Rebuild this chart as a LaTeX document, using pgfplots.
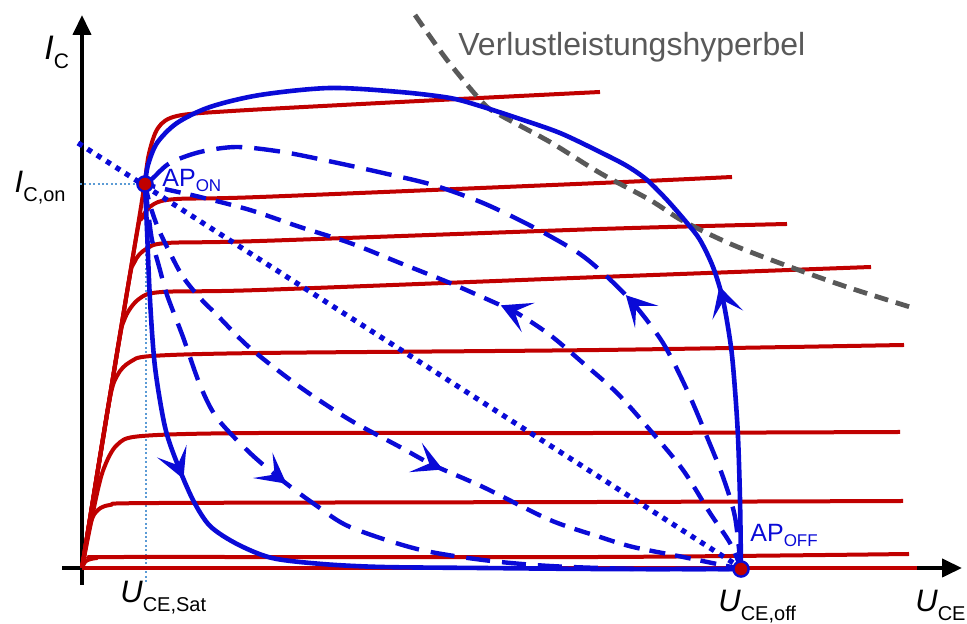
\documentclass[border=0pt]{standalone}
\usepackage{pgfplots}
\pgfplotsset{compat=1.18}
\usepackage{fontspec}
\setmainfont{Liberation Sans}
\usetikzlibrary{arrows.meta,decorations.markings}

\definecolor{chred}{RGB}{192,0,0}
\definecolor{chblue}{RGB}{10,10,215}
\definecolor{hypgray}{RGB}{89,89,89}
\definecolor{guide}{RGB}{91,155,213}

% quantity symbol with lowered index, e.g. U_CE,Sat
\newcommand{\grlabel}[2]{{\fontsize{15.5pt}{16pt}\selectfont\itshape #1}\raisebox{-4.5pt}{\fontsize{10pt}{10pt}\selectfont #2}}
% operating point label
\newcommand{\ap}[1]{{\fontsize{12.5pt}{13pt}\selectfont AP}\raisebox{-2.3pt}{\fontsize{8.5pt}{8.5pt}\selectfont #1}}

\tikzset{
  flow/.style={postaction={decorate},
    decoration={markings, mark=at position #1 with {\pgfsetdash{}{0pt}\arrow[line width=1pt]{Stealth[length=15pt,width=16pt,inset=7.5pt]}}}},
  kennl/.style={chred, line width=2pt, smooth, tension=0.5},
  pfad/.style={chblue, line width=2.3pt, smooth, tension=0.5},
}

\begin{document}
\begin{tikzpicture}
\begin{axis}[
  scale only axis, width=483.5pt, height=310.5pt,
  xmin=-82, xmax=885, ymin=-53, ymax=568,
  hide axis, clip=false,
  every axis plot/.append style={line join=round},
]
% outline of the drawing area
\path (rel axis cs:0,0) rectangle (rel axis cs:1,1);

% coordinate axes
\addplot[black, line width=2pt, -{Triangle[length=10pt,width=9pt]}] coordinates {(-20,0) (880,0)};
\addplot[black, line width=2pt, -{Triangle[length=10pt,width=9pt]}] coordinates {(0,-17) (0,553)};

% guide lines to the on-state operating point
\addplot[guide, line width=0.9pt, dash pattern=on 1pt off 1.2pt] coordinates {(-2,384) (63,384)};
\addplot[guide, line width=0.9pt, dash pattern=on 1pt off 1.2pt] coordinates {(64,384) (64,-15)};

% output characteristics I_C(U_CE) for increasing base drive
\addplot[kennl] coordinates {(0,0) (58,355) (66,410) (76,440) (95,452) (150,457) (318,466) (518,476)};
\addplot[kennl] coordinates {(0,0) (52,318) (60,350) (72,364) (95,369) (178,371) (518,385) (650,391)};
\addplot[kennl] coordinates {(0,0) (44,270) (52,305) (64,319) (85,325) (178,327) (518,339) (705,344)};
\addplot[kennl] coordinates {(0,0) (35,215) (43,250) (57,269) (80,276) (178,278) (518,291) (789,301)};
\addplot[kennl] coordinates {(0,0) (26,160) (35,192) (48,206) (70,212) (178,215) (518,218) (822,223)};
\addplot[kennl] coordinates {(0,0) (14,70) (22,100) (35,123) (60,132) (178,135) (518,135) (818,136)};
\addplot[kennl] coordinates {(0,0) (8,42) (14,56) (28,63) (78,65) (518,66) (821,67)};
\addplot[kennl] coordinates {(0,0) (4,7) (15,10) (45,11) (518,11) (827,14)};
\addplot[chred, line width=2pt] coordinates {(0,0) (835,0)};

% power loss hyperbola
\addplot[hypgray, line width=2.4pt, dash pattern=on 7pt off 4pt, smooth] coordinates {
  (333,553) (365,508) (401,465) (418,453) (468,426) (518,395) (568,368)
  (601,347) (651,323) (711,300) (768,280) (828,261)};

% resistive load line
\addplot[chblue, line width=2.6pt, dash pattern=on 2.6pt off 3pt] coordinates {(-4,425) (653,4)};

% switching trajectories: switch-off (inductive load) and switch-on
\addplot[pfad, flow=0.335] coordinates {
  (63,384) (65,338) (68,268) (73,201) (83,141) (95,105) (111,68) (128,42)
  (155,24) (190,10) (240,4) (300,1) (400,0) (518,-1) (659,-1)};
\addplot[pfad, flow=0.29] coordinates {
  (659,-1) (658,68) (656,131) (653,178) (649,221) (641,268) (631,301) (618,328)
  (605,345) (585,368) (565,388) (545,402) (518,416) (478,435) (438,449) (398,462)
  (368,470) (318,476) (248,480) (178,473) (128,461) (95,445) (75,425) (66,403) (63,384)};

\addplot[pfad, line width=2.2pt, dash pattern=on 13pt off 6pt, flow=0.365] coordinates {
  (659,-2) (653,51) (641,91) (625,131) (605,178) (581,225) (551,265) (521,295)
  (495,316) (451,341) (401,365) (351,383) (301,395) (251,406) (201,416) (155,421)
  (118,416) (88,405) (71,390) (63,384)};
\addplot[pfad, line width=2.2pt, dash pattern=on 8pt off 5pt, flow=0.49] coordinates {
  (659,0) (648,25) (628,55) (601,98) (568,138) (535,175) (501,205) (468,233)
  (435,255) (418,263) (368,285) (318,305) (268,325) (218,341) (168,358) (118,371)
  (78,380) (63,384)};
\addplot[pfad, line width=2.2pt, dash pattern=on 8pt off 5pt, flow=0.575] coordinates {
  (63,384) (68,363) (76,340) (88,315) (101,291) (118,270) (135,253) (168,220)
  (218,181) (268,148) (318,121) (351,103) (401,81) (468,48) (518,31) (551,21)
  (601,11) (659,-1)};
\addplot[pfad, line width=2.2pt, dash pattern=on 12pt off 6pt, flow=0.42] coordinates {
  (63,384) (66,358) (70,328) (78,298) (85,273) (101,231) (118,183) (135,150)
  (168,115) (201,87) (235,62) (268,41) (335,19) (401,8) (468,2) (558,-1) (659,-1)};

% operating points
\addplot[only marks, mark=*, mark size=3.8pt,
  mark options={fill=chred, draw=chblue, line width=1.2pt}] coordinates {(63,384) (659,-1)};

% labels
\node[anchor=base west, inner sep=0pt] at (axis cs:-38,508) {{\fontsize{17pt}{18pt}\selectfont\itshape I}\raisebox{-4.5pt}{\fontsize{10.5pt}{10pt}\selectfont C}};
\node[anchor=base east, inner sep=0pt] at (axis cs:-16,375) {\grlabel{I}{C,on}};
\node[anchor=base west, inner sep=0pt] at (axis cs:38,-35) {\grlabel{U}{CE,Sat}};
\node[anchor=base west, inner sep=0pt] at (axis cs:636,-44) {\grlabel{U}{CE,off}};
\node[anchor=base west, inner sep=0pt] at (axis cs:833,-44) {\grlabel{U}{CE}};
\node[anchor=base west, inner sep=0pt, text=chblue] at (axis cs:80,381) {\ap{ON}};
\node[anchor=base west, inner sep=0pt, text=chblue] at (axis cs:668,26) {\ap{OFF}};
\node[anchor=base west, inner sep=0pt, text=hypgray] at (axis cs:376,512) {\fontsize{16pt}{17pt}\selectfont Verlustleistungshyperbel};
\end{axis}
\end{tikzpicture}
\end{document}
